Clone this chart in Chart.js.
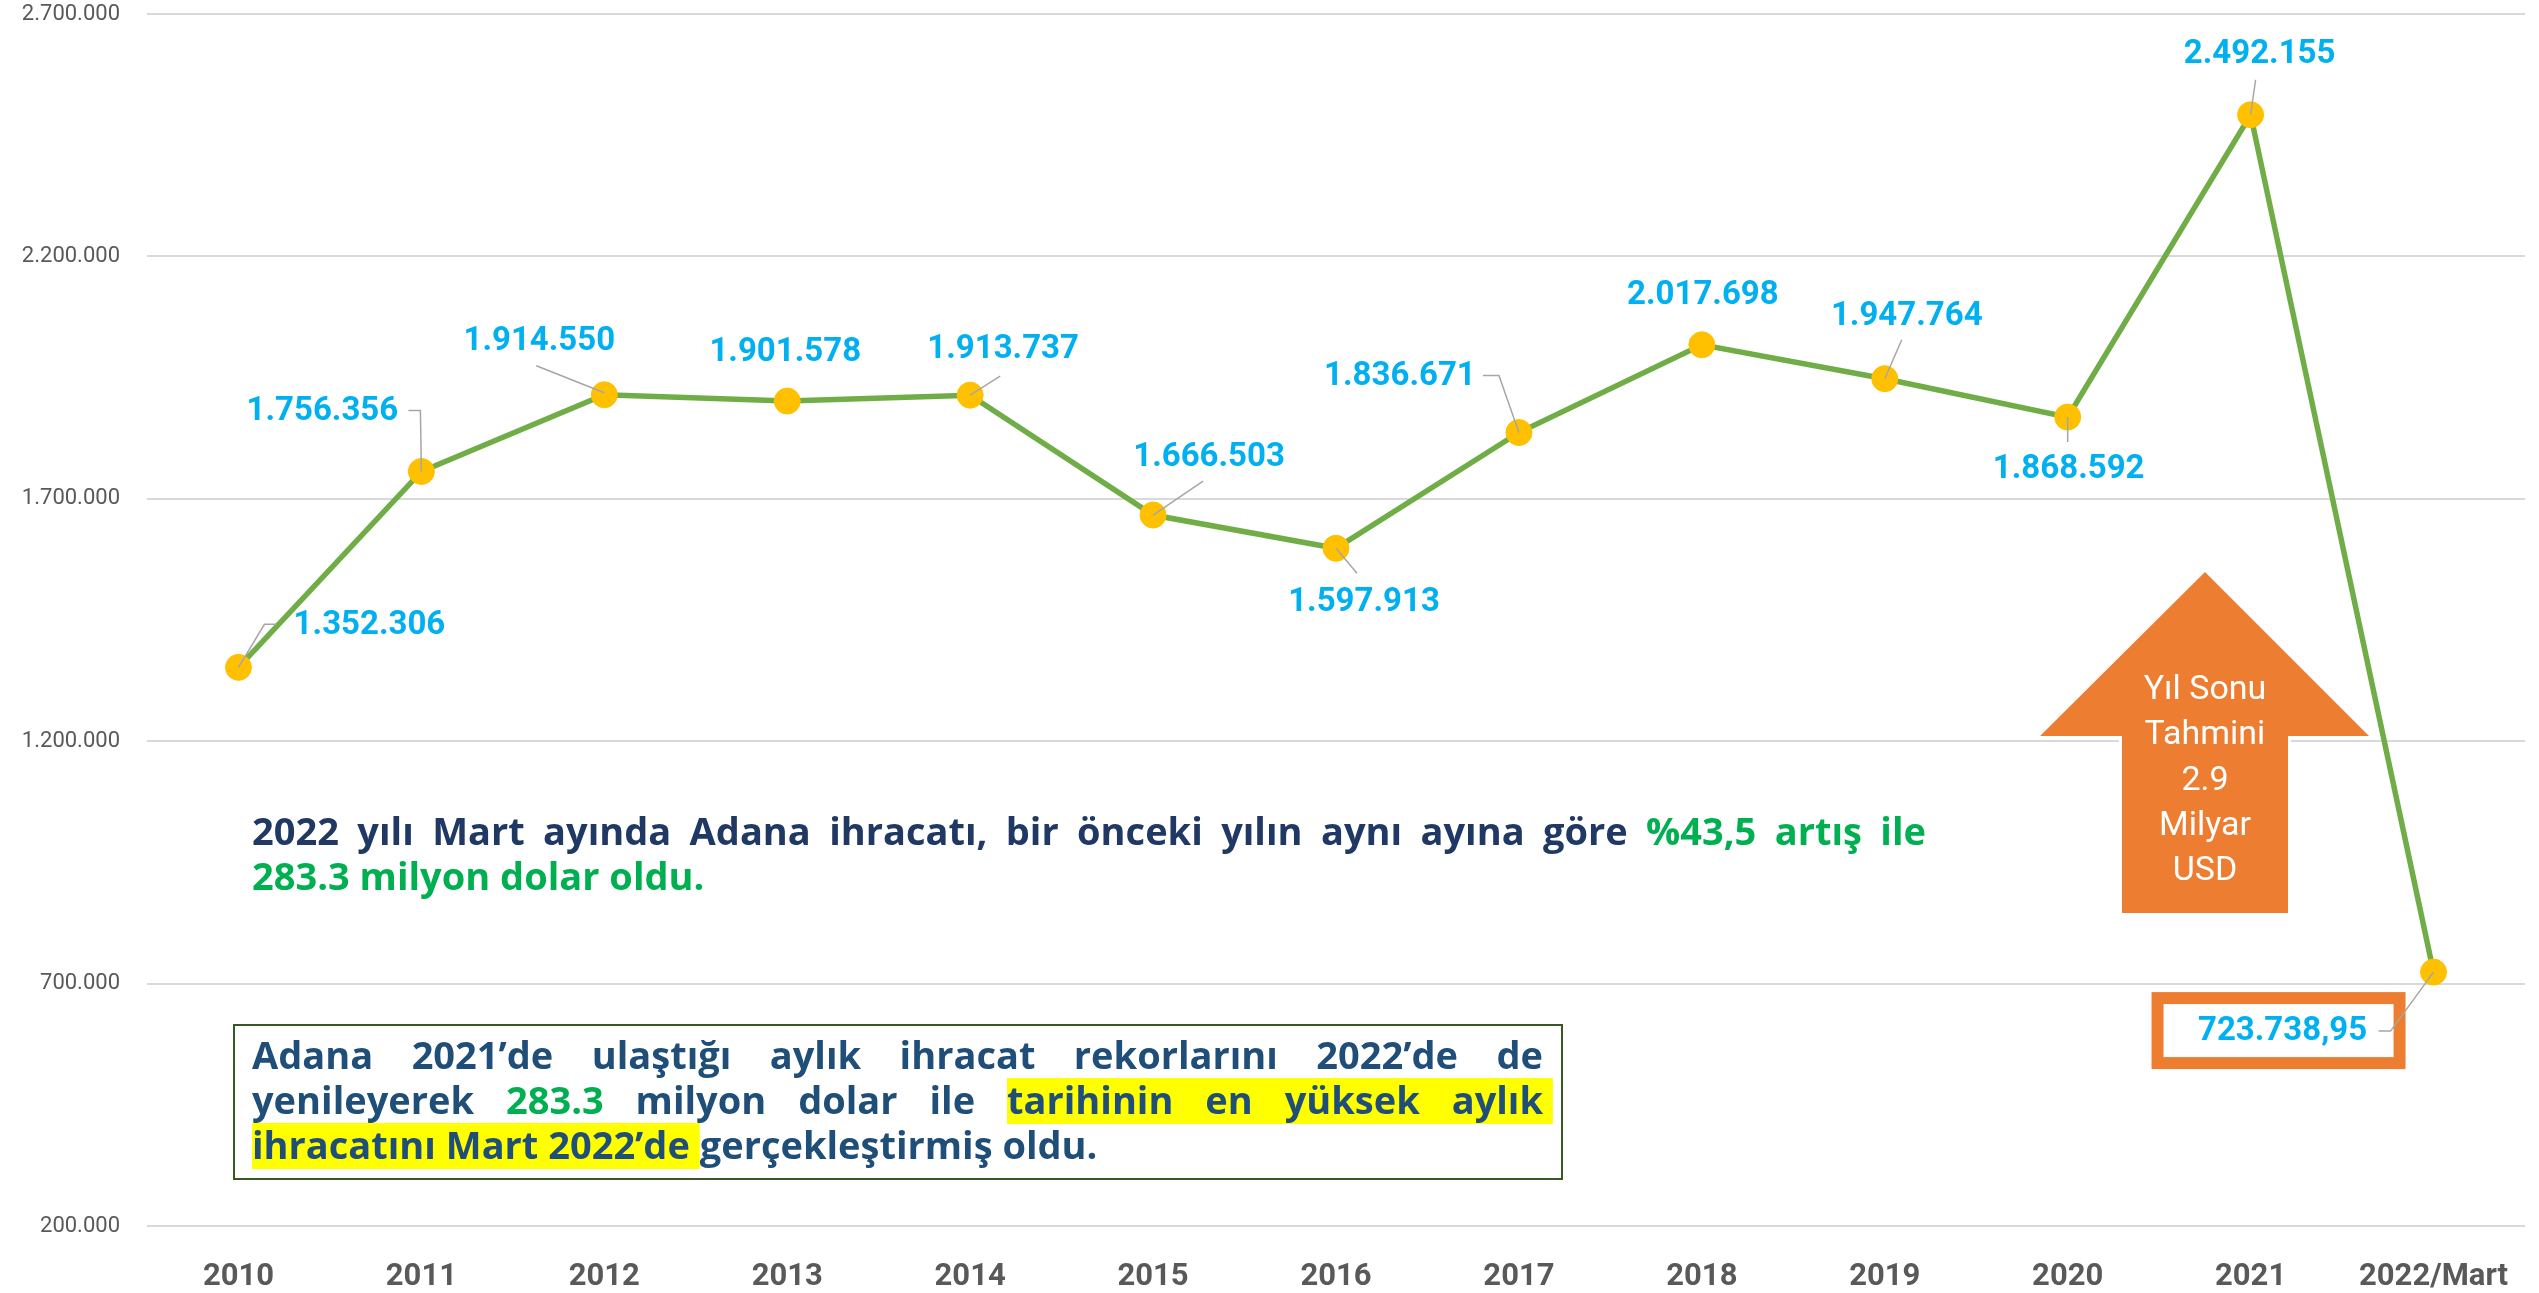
<!DOCTYPE html>
<html>
<head>
<meta charset="utf-8">
<script src="https://cdn.jsdelivr.net/npm/chart.js@4.4.0/dist/chart.umd.min.js"></script>
<style>
  html, body { margin: 0; padding: 0; background: #fff; }
  #grafico { display: block; }
</style>
</head>
<body>
<canvas id="grafico" width="2539" height="1293"></canvas>
<script>
// Veriler
const yillar = ['2010', '2011', '2012', '2013', '2014', '2015', '2016', '2017', '2018', '2019', '2020', '2021', '2022/Mart'];
const ihracat = [1352306, 1756356, 1914550, 1901578, 1913737, 1666503, 1597913, 1836671, 2017698, 1947764, 1868592, 2492155, 723738.95];
const eksenMin = 200000;
const eksenMax = 2700000;
const eksenAdim = 500000;

// Etiket konumlari: nokta merkezine gore kaydirma (px)
const etiketKaydir = [[131, -42], [-99, -60], [-65, -53], [-2, -48], [33, -45], [56, -57], [28, 54], [-119, -56], [1, -49], [22, -62], [1, 53], [9, -60], [-151, 60]];
// Kilavuz cizgileri (nokta merkezine gore)
const kilavuzlar = [
    [[0, 0], [26, -43], [38, -43]],
    [[0, 0], [-1, -61], [-13, -61]],
    [[0, -2], [-68, -29]],
    null,
    [[0, 0], [30, -19]],
    [[0, 0], [50, -34]],
    [[0, 0], [21, 25]],
    [[0, 0], [-20, -57], [-36, -57]],
    null,
    [[0, 0], [17, -39]],
    [[0, 0], [0, 25]],
    [[0, 0], [5, -35]],
    [[0, 0], [-43, 59], [-55, 59]]
];

const LACIVERT = '#203864';
const KUTU_LACIVERT = '#1F4E79';
const YESIL = '#00B050';
const MAVI = '#00B0F0';
const TURUNCU = '#ED7D31';
const METIN_FONT = 'bold 38px "Open Sans"';

function bicim(v) {
    const parcalar = v.toFixed(2).split('.');
    const gruplu = parcalar[0].replace(/\B(?=(\d{3})+(?!\d))/g, '.');
    return Number.isInteger(v) ? gruplu : gruplu + ',' + parcalar[1];
}

// Noktalar icin degerler + kilavuz cizgileri
const etiketEklentisi = {
    id: 'etiketler',
    afterDatasetsDraw(chart) {
        const ctx = chart.ctx;
        const meta = chart.getDatasetMeta(0);
        ctx.save();
        meta.data.forEach((nokta, i) => {
            const px = nokta.x, py = nokta.y;
            // son nokta icin turuncu cerceve
            if (i === ihracat.length - 1) {
                ctx.fillStyle = '#fff';
                ctx.fillRect(px - 276, py + 26, 242, 65);
                ctx.strokeStyle = TURUNCU;
                ctx.lineWidth = 12;
                ctx.strokeRect(px - 276, py + 26, 242, 65);
            }
            const k = kilavuzlar[i];
            if (k) {
                ctx.strokeStyle = '#A6A6A6';
                ctx.lineWidth = 1.5;
                ctx.beginPath();
                k.forEach((p, j) => {
                    if (j === 0) ctx.moveTo(px + p[0], py + p[1]);
                    else ctx.lineTo(px + p[0], py + p[1]);
                });
                ctx.stroke();
            }
            ctx.fillStyle = MAVI;
            ctx.font = 'bold 33px Roboto';
            ctx.textAlign = 'center';
            ctx.textBaseline = 'middle';
            ctx.fillText(bicim(ihracat[i]), px + etiketKaydir[i][0], py + etiketKaydir[i][1]);
        });
        ctx.restore();
    }
};

function kelimelere(parcalar) {
    const sonuc = [];
    parcalar.forEach(p => {
        p.t.split(' ').forEach(w => sonuc.push({ t: w, renk: p.renk, vurgu: !!p.vurgu }));
    });
    return sonuc;
}

function satirYaz(ctx, parcalar, x, y, genislik, yasla) {
    const kelimeler = kelimelere(parcalar);
    const olcu = kelimeler.map(k => ctx.measureText(k.t).width);
    const toplam = olcu.reduce((a, b) => a + b, 0);
    const normalBosluk = ctx.measureText(' ').width;
    const bosluk = yasla ? (genislik - toplam) / (kelimeler.length - 1) : normalBosluk;
    const konum = [];
    let cx = x;
    olcu.forEach(w => { konum.push(cx); cx += w + bosluk; });

    // sari vurgu
    let bas = -1, son = -1;
    kelimeler.forEach((k, i) => {
        if (k.vurgu) { if (bas < 0) bas = i; son = i; }
    });
    if (bas >= 0) {
        ctx.fillStyle = '#FFFF00';
        const x1 = konum[bas];
        const x2 = konum[son] + olcu[son] + normalBosluk;
        ctx.fillRect(x1, y - 36, x2 - x1, 46);
    }
    kelimeler.forEach((k, i) => {
        ctx.fillStyle = k.renk;
        ctx.fillText(k.t, konum[i], y);
    });
}

// Metin kutulari ve ok
const notEklentisi = {
    id: 'notlar',
    afterDraw(chart) {
        const ctx = chart.ctx;
        ctx.save();
        ctx.textAlign = 'left';
        ctx.textBaseline = 'alphabetic';
        ctx.font = METIN_FONT;

        satirYaz(ctx, [
            { t: '2022 yılı Mart ayında Adana ihracatı, bir önceki yılın aynı ayına göre', renk: LACIVERT },
            { t: '%43,5 artış ile', renk: YESIL }
        ], 252, 845, 1674, true);
        satirYaz(ctx, [{ t: '283.3 milyon dolar oldu.', renk: YESIL }], 252, 890, 0, false);

        // cerceveli kutu
        ctx.strokeStyle = '#385723';
        ctx.lineWidth = 2;
        ctx.strokeRect(234, 1025, 1328, 154);
        satirYaz(ctx, [{ t: 'Adana 2021’de ulaştığı aylık ihracat rekorlarını 2022’de de', renk: KUTU_LACIVERT }], 252, 1069, 1291, true);
        satirYaz(ctx, [
            { t: 'yenileyerek', renk: KUTU_LACIVERT },
            { t: '283.3', renk: YESIL },
            { t: 'milyon dolar ile', renk: KUTU_LACIVERT },
            { t: 'tarihinin en yüksek aylık', renk: KUTU_LACIVERT, vurgu: true }
        ], 252, 1114, 1291, true);
        satirYaz(ctx, [
            { t: 'ihracatını Mart 2022’de', renk: KUTU_LACIVERT, vurgu: true },
            { t: 'gerçekleştirmiş oldu.', renk: KUTU_LACIVERT }
        ], 252, 1159, 0, false);

        // turuncu ok
        ctx.beginPath();
        ctx.moveTo(2205, 572);
        ctx.lineTo(2369, 736);
        ctx.lineTo(2288, 736);
        ctx.lineTo(2288, 913);
        ctx.lineTo(2122, 913);
        ctx.lineTo(2122, 736);
        ctx.lineTo(2040, 736);
        ctx.closePath();
        ctx.strokeStyle = '#fff';
        ctx.lineWidth = 6;
        ctx.stroke();
        ctx.fillStyle = TURUNCU;
        ctx.fill();

        ctx.fillStyle = '#fff';
        ctx.font = '34px Roboto';
        ctx.textAlign = 'center';
        ['Yıl Sonu', 'Tahmini', '2.9', 'Milyar', 'USD'].forEach((s, i) => {
            ctx.fillText(s, 2205, 699 + i * 45.3);
        });
        ctx.restore();
    }
};

new Chart(document.getElementById('grafico'), {
    type: 'line',
    data: {
        labels: yillar,
        datasets: [{
            data: ihracat,
            borderColor: '#70AD47',
            borderWidth: 5.5,
            tension: 0,
            fill: false,
            pointRadius: 13,
            pointBackgroundColor: '#FFC000',
            pointBorderColor: '#FFC000',
            pointBorderWidth: 1
        }]
    },
    options: {
        responsive: false,
        animation: false,
        devicePixelRatio: 1,
        layout: { padding: { top: 14, right: 0, bottom: 0, left: 0 } },
        plugins: {
            legend: { display: false },
            tooltip: { enabled: false }
        },
        scales: {
            x: {
                offset: true,
                grid: { display: false, drawTicks: false },
                border: { display: false },
                ticks: {
                    color: '#595959',
                    font: { family: 'Roboto', weight: 'bold', size: 31 },
                    padding: 33,
                    maxRotation: 0,
                    autoSkip: false
                },
                afterFit(s) {
                    s.height = 67;
                    s.paddingLeft = 0;
                    s.paddingRight = 0;
                }
            },
            y: {
                min: eksenMin,
                max: eksenMax,
                ticks: {
                    stepSize: eksenAdim,
                    padding: 27,
                    color: '#595959',
                    font: { family: 'Roboto', size: 22 },
                    callback: v => bicim(v)
                },
                grid: { color: '#D9D9D9', lineWidth: 2, drawTicks: false },
                border: { display: false },
                afterFit(s) {
                    s.width = 147;
                    s.paddingTop = 0;
                    s.paddingBottom = 0;
                }
            }
        }
    },
    plugins: [etiketEklentisi, notEklentisi]
});
</script>
</body>
</html>
